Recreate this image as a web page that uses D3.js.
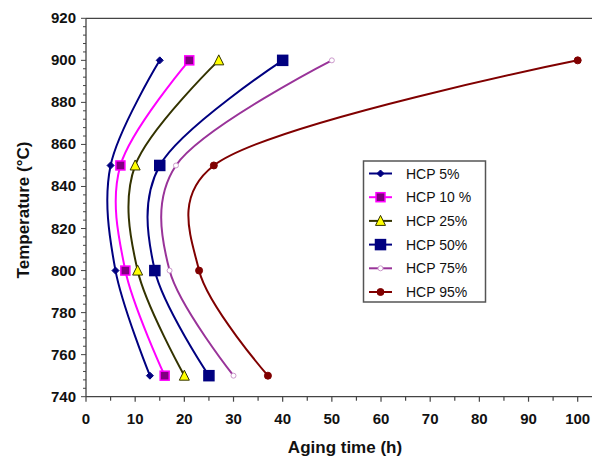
<!DOCTYPE html>
<html><head><meta charset="utf-8">
<script src="https://cdn.jsdelivr.net/npm/d3@7"></script>
<style>body{margin:0;background:#fff;} svg{display:block;} text{font-family:"Liberation Sans",Arial,sans-serif;}</style>
</head><body>
<svg id="c" width="592" height="460"></svg>
<script>
const temps = [900, 850, 800, 750];
const seriesNames = ["HCP 5%", "HCP 10 %", "HCP 25%", "HCP 50%", "HCP 75%", "HCP 95%"];
const hcp5  = [15, 5, 6, 13];
const hcp10 = [21, 7, 8, 16];
const hcp25 = [27, 10, 10.5, 20];
const hcp50 = [40, 15, 14, 25];
const hcp75 = [50, 18.3, 17, 30];
const hcp95 = [100, 26, 23, 37];
const xTicks = [0,10,20,30,40,50,60,70,80,90,100];
const yTicks = [740,760,780,800,820,840,860,880,900,920];

const styles = [
  {line:"#000080", marker:"diamond", size:7, fill:"#000080", stroke:"#000080"},
  {line:"#FF00FF", marker:"square", size:9, fill:"#800080", stroke:"#FF00FF"},
  {line:"#333300", marker:"triangle", size:9, fill:"#FFFF00", stroke:"#333300"},
  {line:"#000080", marker:"square", size:10, fill:"#000080", stroke:"#000080"},
  {line:"#993399", marker:"circle", size:5, fill:"#ffffff", stroke:"#CC99CC"},
  {line:"#800000", marker:"circle", size:7, fill:"#800000", stroke:"#800000"}
];
const allVals = [hcp5, hcp10, hcp25, hcp50, hcp75, hcp95];

const svg = d3.select("#c");
const x = d3.scaleLinear().domain([0,100]).range([86, 577.7]);
const y = d3.scaleLinear().domain([740,920]).range([396.7, 18.3]);

svg.append("line").attr("x1",86).attr("x2",592).attr("y1",18.3).attr("y2",18.3).attr("stroke","#444").attr("stroke-width",1.3);

const gx = svg.append("g");
gx.append("line").attr("x1",86).attr("x2",592).attr("y1",396.7).attr("y2",396.7).attr("stroke","#444").attr("stroke-width",1.3);
d3.range(0,101,5).forEach(v=>{
  const major = v%10===0;
  gx.append("line").attr("x1",x(v)).attr("x2",x(v)).attr("y1",396.7).attr("y2",396.7+(major?5:4)).attr("stroke","#444").attr("stroke-width",1.2);
});
xTicks.forEach(v=>{
  gx.append("text").attr("x",x(v)).attr("y",423.5).attr("text-anchor","middle").attr("font-size",15).attr("font-weight","bold").attr("fill","#111").text(v);
});
const gy = svg.append("g");
gy.append("line").attr("x1",86).attr("x2",86).attr("y1",18.3).attr("y2",396.7).attr("stroke","#444").attr("stroke-width",1.3);
d3.range(740,921,4).forEach(v=>{
  const major = v%20===0;
  gy.append("line").attr("x1",86-(major?5:3)).attr("x2",86).attr("y1",y(v)).attr("y2",y(v)).attr("stroke","#444").attr("stroke-width",1);
});
yTicks.forEach(v=>{
  gy.append("text").attr("x",76).attr("y",y(v)+5).attr("text-anchor","end").attr("font-size",15).attr("font-weight","bold").attr("fill","#111").text(v);
});
svg.append("text").attr("x",345).attr("y",453).attr("text-anchor","middle").attr("font-size",17).attr("font-weight","bold").attr("fill","#111").text("Aging time (h)");
svg.append("text").attr("transform","translate(29,210) rotate(-90)").attr("text-anchor","middle").attr("font-size",17).attr("font-weight","bold").attr("fill","#111").text("Temperature (°C)");

function drawMarker(g, st, cx, cy){
  const s = st.size;
  if(st.marker==="diamond"){
    g.append("path").attr("d",`M${cx},${cy-s/2}L${cx+s/2},${cy}L${cx},${cy+s/2}L${cx-s/2},${cy}Z`).attr("fill",st.fill).attr("stroke",st.stroke).attr("stroke-width",1);
  } else if(st.marker==="square"){
    g.append("rect").attr("x",cx-s/2).attr("y",cy-s/2).attr("width",s).attr("height",s).attr("fill",st.fill).attr("stroke",st.stroke).attr("stroke-width",1.5);
  } else if(st.marker==="triangle"){
    g.append("path").attr("d",`M${cx},${cy-s/2-1}L${cx+s/2+0.5},${cy+s/2}L${cx-s/2-0.5},${cy+s/2}Z`).attr("fill",st.fill).attr("stroke",st.stroke).attr("stroke-width",1);
  } else {
    g.append("circle").attr("cx",cx).attr("cy",cy).attr("r",s/2).attr("fill",st.fill).attr("stroke",st.stroke).attr("stroke-width",1);
  }
}

const line = d3.line().x(d=>x(d[0])).y(d=>y(d[1])).curve(d3.curveCatmullRom.alpha(0.25));
allVals.forEach((vals,i)=>{
  const pts = vals.map((v,j)=>[v,temps[j]]);
  const st = styles[i];
  const g = svg.append("g");
  g.append("path").attr("d",line(pts)).attr("fill","none").attr("stroke",st.line).attr("stroke-width",2);
  pts.forEach(p=>drawMarker(g, st, x(p[0]), y(p[1])));
});

const lg = svg.append("g");
lg.append("rect").attr("x",363.5).attr("y",161).attr("width",122).attr("height",141).attr("fill","#fff").attr("stroke","#555").attr("stroke-width",1.5);
seriesNames.forEach((nm,i)=>{
  const cy = 173.5 + i*23.7;
  const st = styles[i];
  lg.append("line").attr("x1",369).attr("x2",392).attr("y1",cy).attr("y2",cy).attr("stroke",st.line).attr("stroke-width",2);
  drawMarker(lg, st, 380.5, cy);
  lg.append("text").attr("x",406).attr("y",cy+5).attr("font-size",14).attr("fill","#111").text(nm);
});
</script>
</body></html>
